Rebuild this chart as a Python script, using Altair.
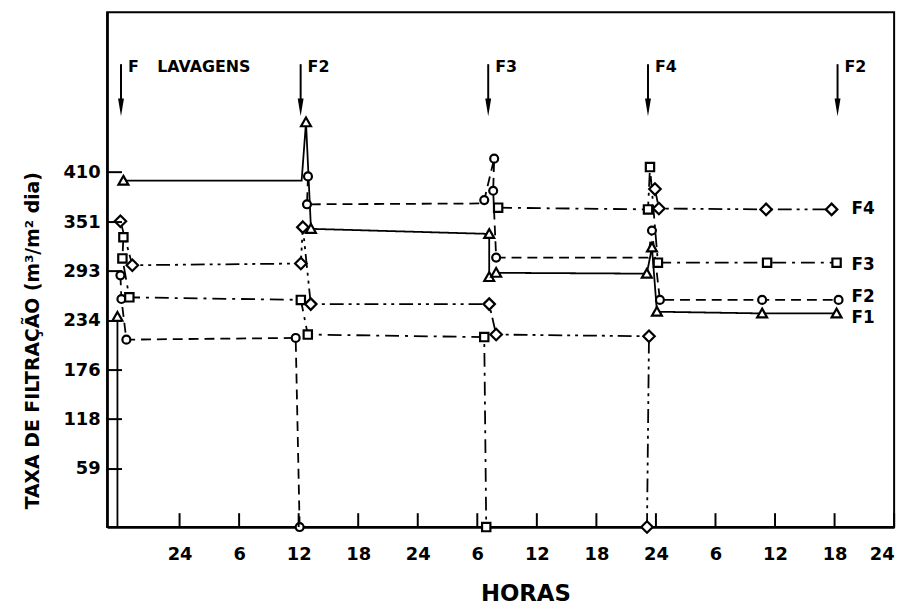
import altair as alt
import pandas as pd

# ---- data (time in hours after the first "24" tick, rate in m3/m2 dia)
SERIES = ["F1", "F2", "F3", "F4"]

F1_t = [-6.26, -6.26, -5.66, 12.3, 12.74, 13.24, 31.2, 31.2, 31.9, 47.08, 47.6, 48.1, 58.7, 66.2]
F1_v = [239, -9.6, 400, 400, 469, 343, 337, 286, 291, 290, 321, 245, 243, 243]
F1_seg = [0, 0, 1, 1, 1, 1, 1, 1, 1, 1, 1, 1, 1, 1]
F1_mk = [1, 0, 1, 0, 1, 1, 1, 1, 1, 1, 1, 1, 1, 1]

F2_t = [-5.96, -5.86, -5.36, 11.7, 12.1, 12.94, 12.84, 30.6, 30.7, 31.7, 31.6, 31.9, 47.2, 47.6, 48.4, 58.7, 66.4]
F2_v = [288, 260, 212, 214, -9.6, 405, 372, 373, 377, 426, 388, 309, 309, 341, 259, 259, 259]
F2_seg = [0, 0, 0, 0, 0, 1, 1, 1, 1, 1, 1, 1, 1, 1, 1, 1, 1]
F2_mk = [1, 1, 1, 1, 1, 1, 1, 0, 1, 1, 1, 1, 0, 1, 1, 1, 1]

F3_t = [-5.66, -5.76, -5.06, 12.22, 12.92, 30.7, 30.9, 32.1, 47.2, 47.4, 48.2, 59.2, 66.2]
F3_v = [333, 308, 262, 259, 218, 215, -9.6, 368, 366, 416, 303, 303, 303]
F3_seg = [0, 0, 0, 0, 0, 0, 0, 1, 1, 1, 1, 1, 1]
F3_mk = [1, 1, 1, 1, 1, 1, 1, 1, 1, 1, 1, 1, 1]

F4_t = [-5.96, -4.76, 12.22, 12.42, 13.22, 31.2, 31.9, 47.3, 47.1, 47.9, 48.3, 59.1, 65.7]
F4_v = [352, 300, 302, 345, 254, 254, 218, 216, -9.6, 390, 367, 366, 366]
F4_seg = [0, 0, 0, 0, 0, 0, 0, 0, 0, 1, 1, 1, 1]
F4_mk = [1, 1, 1, 1, 1, 1, 1, 1, 1, 1, 1, 1, 1]

X_TICKS = [0, 6, 12, 18, 24, 30, 36, 42, 48, 54, 60, 66, 72]
X_LABELS = ["24", "6", "12", "18", "24", "6", "12", "18", "24", "6", "12", "18", "24"]
Y_TICKS = [59, 118, 176, 234, 293, 351, 410]

ARROW_T = [-5.9, 12.2, 31.1, 47.2, 66.3]
ARROW_TEXT = ["F", "F2", "F3", "F4", "F2"]
LAVAGENS_T = [-2.25]
END_T = [67.7, 67.7, 67.7, 67.7]
END_V = [366, 300, 262, 238]
END_TEXT = ["F4", "F3", "F2", "F1"]

SHAPES = [
    "M0,-1.2L1.25,1L-1.25,1Z",                    # triangle
    "circle",                                    # circle
    "M-1.05,-1.05L1.05,-1.05L1.05,1.05L-1.05,1.05Z",  # square
    "M0,-1.45L1.45,0L0,1.45L-1.45,0Z",           # diamond
]
DASHES = [[1, 0], [10, 6], [14, 6, 3, 6], [14, 5, 3, 5, 3, 5]]

W, H = 794, 519.5
FONT = "DejaVu Sans"

rows = []
for name, ts, vs, segs, mks in [
    ("F1", F1_t, F1_v, F1_seg, F1_mk),
    ("F2", F2_t, F2_v, F2_seg, F2_mk),
    ("F3", F3_t, F3_v, F3_seg, F3_mk),
    ("F4", F4_t, F4_v, F4_seg, F4_mk),
]:
    for i, (t, v, s, m) in enumerate(zip(ts, vs, segs, mks)):
        rows.append({"series": name, "key": f"{name}_{s}", "i": i, "t": t, "v": v, "mk": m})
df = pd.DataFrame(rows)

xs = alt.Scale(domain=[-7.3, 72], nice=False, zero=False)
ys = alt.Scale(domain=[-9.6, 599.2], nice=False, zero=False)

label_expr = ""
for val, lab in zip(X_TICKS, X_LABELS):
    label_expr += f"datum.value == {val} ? '{lab}' : "
label_expr += "''"

X_AXIS = alt.Axis(
    values=X_TICKS, labelExpr=label_expr, title="HORAS",
    titleFontSize=23, titleFont=FONT, titleFontWeight="bold",
    titleX=422, titleY=67, titleBaseline="middle", labelPadding=19,
)
Y_AXIS = alt.Axis(
    values=Y_TICKS, title="TAXA DE FILTRAÇÃO (m³/m² dia)",
    titleFontSize=19, titleFont=FONT, titleFontWeight="bold",
    titleX=-75, titleY=331, titleAngle=270, titleBaseline="middle", labelPadding=7,
)


def X():
    return alt.X("t:Q", scale=xs, axis=X_AXIS)


def Y():
    return alt.Y("v:Q", scale=ys, axis=Y_AXIS)


base = alt.Chart(df)

lines = base.mark_line(color="black", strokeWidth=1.8).encode(
    x=X(), y=Y(),
    detail="key:N",
    order="i:Q",
    strokeDash=alt.StrokeDash("series:N", scale=alt.Scale(domain=SERIES, range=DASHES), legend=None),
)

points = base.transform_filter("datum.mk == 1").mark_point(
    filled=True, fill="white", stroke="black", strokeWidth=2.2, opacity=1, size=64
).encode(
    x=X(), y=Y(),
    shape=alt.Shape("series:N", scale=alt.Scale(domain=SERIES, range=SHAPES), legend=None),
)

ytick_df = pd.DataFrame({"v": Y_TICKS})
yticks = alt.Chart(ytick_df).mark_rule(color="black", strokeWidth=2).encode(
    y=Y(), x=alt.value(0), x2=alt.value(15)
)
xtick_df = pd.DataFrame({"t": X_TICKS})
xticks = alt.Chart(xtick_df).mark_rule(color="black", strokeWidth=2).encode(
    x=X(), y=alt.value(H), y2=alt.value(H - 14)
)

arrow_df = pd.DataFrame({"t": ARROW_T, "label": ARROW_TEXT})
arrow_lines = alt.Chart(arrow_df).mark_rule(color="black", strokeWidth=2).encode(
    x=X(), y=alt.value(52.5), y2=alt.value(92)
)
arrow_heads = alt.Chart(arrow_df).mark_point(
    shape="M-0.33,-1L0.33,-1L0,1Z", filled=True, color="black", size=324, opacity=1
).encode(x=X(), y=alt.value(96))
arrow_text = alt.Chart(arrow_df).mark_text(
    align="left", baseline="middle", dx=7, font=FONT, fontWeight="bold", fontSize=16, color="black"
).encode(x=X(), y=alt.value(55), text="label:N")

lav_df = pd.DataFrame({"t": LAVAGENS_T, "label": ["LAVAGENS"]})
lav_text = alt.Chart(lav_df).mark_text(
    align="left", baseline="middle", font=FONT, fontWeight="bold", fontSize=16, color="black"
).encode(x=X(), y=alt.value(55), text="label:N")

end_df = pd.DataFrame({"t": END_T, "v": END_V, "label": END_TEXT})
end_text = alt.Chart(end_df).mark_text(
    align="left", baseline="middle", font=FONT, fontWeight="bold", fontSize=17, color="black"
).encode(x=X(), y=Y(), text="label:N")

chart = alt.layer(
    lines, points, yticks, xticks, arrow_lines, arrow_heads, arrow_text, lav_text, end_text
).properties(
    width=W, height=H,
    autosize=alt.AutoSizeParams(type="none"),
    padding={"left": 100, "top": 1.5, "right": 14, "bottom": 82},
    background="white",
).configure_view(
    stroke="black", strokeWidth=2
).configure_axis(
    domainColor="black", domainWidth=2.5, tickSize=0, grid=False,
    labelFont=FONT, labelFontWeight="bold", labelFontSize=18, labelColor="black",
    titleColor="black",
)

chart.save("out.html", embed_options={"renderer": "svg", "actions": False})
